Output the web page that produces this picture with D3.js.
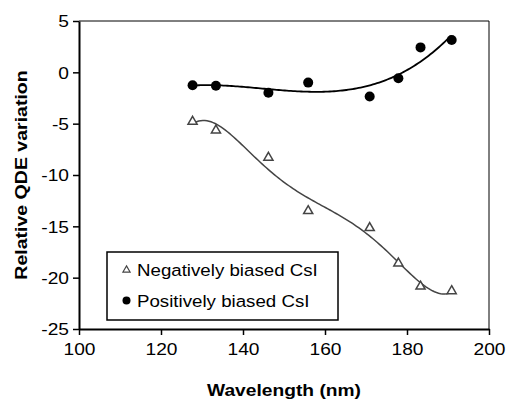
<!DOCTYPE html>
<html>
<head>
<meta charset="utf-8">
<script src="https://cdn.jsdelivr.net/npm/d3@7"></script>
<style>
  body { margin: 0; background: #fff; }
  svg { display: block; font-family: "Liberation Sans", Arial, sans-serif; }
</style>
</head>
<body>
<div id="chart"></div>
<script>
// Data
const wavelength = [127.7, 133.4, 146.2, 155.9, 170.9, 177.9, 183.3, 190.9];
const negativeQDE = [-4.8, -5.65, -8.3, -13.5, -15.15, -18.6, -20.85, -21.3];
const positiveQDE = [-1.25, -1.3, -1.98, -1.0, -2.35, -0.58, 2.43, 3.15];
const xTicks = [100, 120, 140, 160, 180, 200];
const yTicks = [5, 0, -5, -10, -15, -20, -25];

// Least squares polynomial trendline (x centred and scaled for stability)
function polyFit(xs, ys, order) {
  const c0 = 160, s0 = 30;
  const ts = xs.map(v => (v - c0) / s0);
  const n = order + 1;
  const A = Array.from({ length: n }, () => new Array(n + 1).fill(0));
  ts.forEach((t, k) => {
    for (let i = 0; i < n; i++) {
      for (let j = 0; j < n; j++) A[i][j] += Math.pow(t, i + j);
      A[i][n] += ys[k] * Math.pow(t, i);
    }
  });
  for (let c = 0; c < n; c++) {
    let p = c;
    for (let r = c + 1; r < n; r++) if (Math.abs(A[r][c]) > Math.abs(A[p][c])) p = r;
    [A[c], A[p]] = [A[p], A[c]];
    for (let r = 0; r < n; r++) {
      if (r === c) continue;
      const f = A[r][c] / A[c][c];
      for (let j = c; j <= n; j++) A[r][j] -= f * A[c][j];
    }
  }
  const coef = A.map((row, i) => row[n] / row[i]);
  return v => {
    const t = (v - c0) / s0;
    return coef.reduce((s, c, i) => s + c * Math.pow(t, i), 0);
  };
}

const width = 506, height = 401;
const margin = { top: 21, right: 17, bottom: 72, left: 79 };
const fontSize = 17;
const stretch = 1.13; // the reference's lettering runs wider than Liberation Sans

const svg = d3.select('#chart').append('svg')
  .attr('width', width)
  .attr('height', height);

const x = d3.scaleLinear().domain([100, 200]).range([margin.left, width - margin.right]);
const y = d3.scaleLinear().domain([-25, 5]).range([height - margin.bottom, margin.top]);

// Top and right frame
svg.append('path')
  .attr('d', `M${x(100)},${y(5)}H${x(200)}V${y(-25)}`)
  .attr('fill', 'none')
  .attr('stroke', '#000')
  .attr('stroke-width', 1);

// Axes (plain hyphen for negatives, like the original)
const plain = d => String(d);
const xAxis = svg.append('g')
  .attr('transform', `translate(0,${y(-25)})`)
  .call(d3.axisBottom(x).tickValues(xTicks).tickFormat(plain).tickSize(6).tickSizeOuter(0));
const yAxis = svg.append('g')
  .attr('transform', `translate(${x(100)},0)`)
  .call(d3.axisLeft(y).tickValues(yTicks).tickFormat(plain).tickSize(6).tickSizeOuter(0));

[xAxis, yAxis].forEach(g => {
  g.select('.domain').attr('stroke-width', 2);
  g.selectAll('.tick line').attr('stroke-width', 1.5);
  g.selectAll('.tick text')
    .attr('font-size', fontSize)
    .attr('font-family', '"Liberation Sans", Arial, sans-serif')
    .attr('fill', '#000');
});
xAxis.selectAll('.tick text')
  .attr('y', 0).attr('dy', 0)
  .attr('transform', `translate(0,26) scale(${stretch},1)`);
yAxis.selectAll('.tick text')
  .attr('x', 0).attr('dy', '0.35em')
  .attr('transform', `translate(-10,0) scale(${stretch},1)`);

// Axis titles
svg.append('text')
  .attr('transform', `translate(284,396) scale(${stretch},1)`)
  .attr('text-anchor', 'middle')
  .attr('font-size', fontSize).attr('font-weight', 'bold')
  .text('Wavelength (nm)');
svg.append('text')
  .attr('transform', `translate(27,${(y(5) + y(-25)) / 2}) rotate(-90) scale(${stretch + 0.02},1)`)
  .attr('text-anchor', 'middle')
  .attr('font-size', fontSize).attr('font-weight', 'bold')
  .text('Relative QDE variation');

// Trendlines
const xs = d3.range(wavelength[0], wavelength[wavelength.length - 1] + 0.01, 0.5);
const line = d3.line().x(d => x(d[0])).y(d => y(d[1]));

const negFit = polyFit(wavelength, negativeQDE, 5);
const posFit = polyFit(wavelength, positiveQDE, 3);

svg.append('path')
  .attr('d', line(xs.map(v => [v, negFit(v)])))
  .attr('fill', 'none').attr('stroke', '#444').attr('stroke-width', 1.5);
svg.append('path')
  .attr('d', line(xs.map(v => [v, posFit(v)])))
  .attr('fill', 'none').attr('stroke', '#000').attr('stroke-width', 1.8);

// Markers
const tri = d3.symbol().type(d3.symbolTriangle).size(36);
svg.append('g').selectAll('path')
  .data(wavelength.map((w, i) => [w, negativeQDE[i]]))
  .join('path')
  .attr('d', tri)
  .attr('transform', d => `translate(${x(d[0])},${y(d[1])})`)
  .attr('fill', '#fff').attr('stroke', '#444').attr('stroke-width', 1.5);

svg.append('g').selectAll('circle')
  .data(wavelength.map((w, i) => [w, positiveQDE[i]]))
  .join('circle')
  .attr('cx', d => x(d[0])).attr('cy', d => y(d[1]))
  .attr('r', 5).attr('fill', '#000');

// Legend
const legend = svg.append('g').attr('transform', 'translate(107,252)');
legend.append('rect')
  .attr('width', 231).attr('height', 68)
  .attr('fill', '#fff').attr('stroke', '#000').attr('stroke-width', 1.5);
legend.append('path')
  .attr('d', d3.symbol().type(d3.symbolTriangle).size(22))
  .attr('transform', 'translate(19.5,18)')
  .attr('fill', '#fff').attr('stroke', '#444').attr('stroke-width', 1.2);
legend.append('circle')
  .attr('cx', 19.5).attr('cy', 48.5).attr('r', 4).attr('fill', '#000');
legend.append('text')
  .attr('transform', 'translate(30,24) scale(1.1,1)')
  .attr('font-size', fontSize)
  .text('Negatively biased CsI');
legend.append('text')
  .attr('transform', 'translate(30,55) scale(1.1,1)')
  .attr('font-size', fontSize)
  .text('Positively biased CsI');
</script>
</body>
</html>
